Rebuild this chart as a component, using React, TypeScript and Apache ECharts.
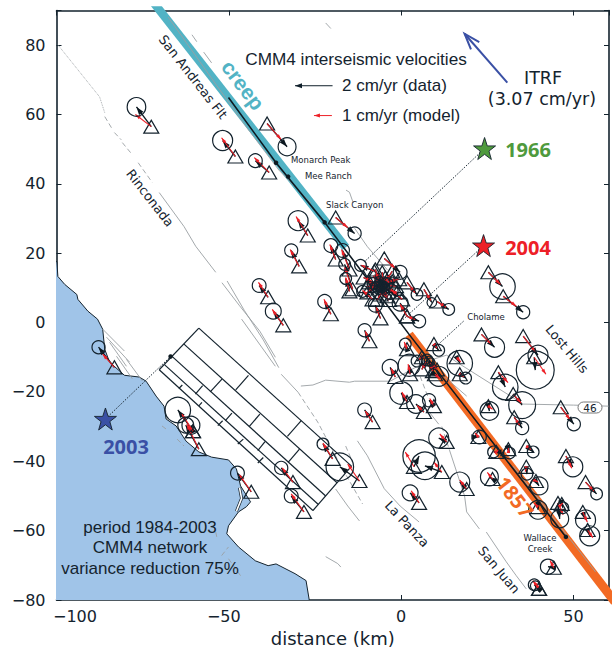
import React, { useEffect, useRef } from "react";
import * as echarts from "echarts";

const X_TICK_LABELS = { "-100": "{a|−100}", "-50": "{b|−50}", "0": "0", "50": "50" };
const X_LABEL = "distance (km)";

// station rows: triangle x, y, data head x, y, uncertainty radius (km), model head x, y
const STATIONS = [
  [-72.5,56.5,-76.8,62.2,2.7,-77.1,60.0],[-48.1,47.9,-51.8,52.5,2.9,-52.1,53.3],[-38.3,43.3,-42.3,46.7,2.0,-42.6,47.6],
  [-38.9,57.4,-33.1,50.7,2.6,-34.8,52.8],[-27.1,25.1,-29.9,29.4,2.9,-30.5,30.6],[-29.6,16.2,-31.9,20.8,1.9,-32.2,21.1],
  [-38.6,7.3,-41.2,10.7,2.0,-41.4,11.6],[-34.2,-0.8,-37.1,3.3,2.3,-37.4,3.8],[-20.4,2.4,-22.2,6.1,2.0,-22.4,6.7],
  [-83.2,-12.9,-87.8,-7.1,1.9,-86.6,-9.1],[-60.4,-31.3,-64.8,-25.2,3.7,-63.6,-26.4],[-58.7,-36.5,-62.5,-29.6,2.3,-62.2,-29.3],
  [-60.4,-31.3,-61.0,-29.6,2.6,-61.6,-29.8],[-43.5,-48.8,-47.5,-43.4,2.0,-46.9,-43.9],[-31.4,-46.0,-34.8,-41.9,1.9,-34.5,-41.9],
  [-28.2,-54.6,-31.9,-50.0,2.0,-31.9,-49.4],[-19.9,-39.3,-22.7,-35.0,1.7,-22.7,-34.7],[-12.1,-45.7,-17.8,-41.6,4.0,-15.5,-40.8],
  [-19.0,30.3,-13.5,25.7,1.9,-15.5,27.4],[-4.9,18.5,-0.3,14.5,2.0,-1.7,15.6],[-19.0,18.2,-20.4,22.2,2.0,-20.7,22.5],
  [-15.0,15.3,-17.0,20.8,2.0,-17.3,21.1],[-14.1,9.6,-16.4,16.8,1.7,-16.4,15.9],[-7.8,14.8,-11.8,16.5,1.7,-11.5,16.5],
  [-15.0,9.0,-16.1,12.7,1.7,-16.1,13.0],[-8.3,6.7,-11.2,9.0,1.7,-11.2,9.3],[-6.0,1.2,-7.5,5.0,2.0,-7.2,4.4],
  [1.7,1.8,-0.3,5.6,2.3,-0.3,5.3],[1.7,1.8,5.2,0.4,1.9,4.0,0.9],[1.7,11.6,4.6,8.1,1.7,4.0,8.6],[6.6,9.6,8.9,5.8,1.4,8.6,6.4],
  [-9.2,11.6,-6.9,10.2,1.7,-7.2,10.6],[-2.6,14.8,-4.6,11.6,1.4,-4.4,12.0],[-7.5,15.3,-6.3,11.9,1.4,-6.6,12.4],
  [-4.0,7.6,-5.5,10.2,1.4,-5.6,10.8],[-1.2,8.7,-4.6,9.6,1.4,-4.2,9.9],[-9.8,8.7,-7.5,10.4,1.4,-7.8,10.6],
  [0.3,6.7,-3.2,9.0,2.3,-2.9,9.5],[-6.0,8.1,-6.6,11.3,1.2,-6.3,11.0],[-10.9,13.0,-8.1,11.3,1.7,-8.6,12.0],
  [-2.6,11.9,-5.2,10.7,1.2,-4.9,11.3],[-4.6,13.0,-5.8,10.7,1.4,-5.5,10.9],[-0.6,12.5,-4.0,11.3,1.7,-3.6,11.9],
  [-8.0,13.5,-6.0,10.0,1.3,-6.4,10.6],[-3.5,6.5,-6.5,9.6,1.5,-6.2,9.2],[-10.0,10.5,-5.0,10.0,1.2,-5.6,10.3],
  [-1.5,10.5,-6.6,10.6,1.3,-6.0,10.9],[-5.5,14.5,-5.0,11.0,1.0,-5.2,11.5],[-7.0,6.5,-4.5,10.4,1.2,-4.9,9.9],
  [-9.2,-5.4,-10.6,-2.2,1.9,-10.4,-2.5],[1.7,-7.7,1.2,-6.2,1.7,0.9,-5.6],[9.5,-6.2,10.9,-8.0,1.7,10.4,-7.4],
  [10.4,6.1,13.8,3.8,1.7,13.0,4.4],[25.3,14.5,29.4,10.4,3.7,28.8,11.0],[29.6,7.6,35.4,3.0,1.9,33.4,4.7],
  [23.3,-3.4,27.1,-7.1,2.9,25.9,-6.0],[35.4,-3.9,39.7,-9.4,2.9,38.9,-8.4],[38.6,-10.0,38.9,-13.7,5.5,42.0,-14.9],
  [-1.7,-15.7,-3.2,-12.9,2.3,-2.9,-13.2],[2.6,-14.9,2.3,-12.3,3.2,2.0,-12.0],[6.0,-10.0,4.6,-11.1,1.7,5.0,-10.7],
  [9.2,-14.0,8.1,-11.1,1.4,8.4,-11.6],[10.4,-13.5,8.6,-11.4,1.2,8.9,-11.9],[6.0,-13.5,7.5,-10.8,1.7,7.2,-11.4],
  [9.8,-14.9,10.9,-15.5,2.9,11.4,-16.2],[16.1,-10.0,17.0,-11.7,3.7,17.3,-11.4],[17.0,-14.9,18.7,-16.0,1.7,18.2,-15.6],
  [1.7,-22.9,0.0,-20.3,3.3,0.2,-20.0],[6.6,-25.8,4.3,-23.5,2.7,4.6,-23.9],[9.5,-24.1,8.1,-22.4,1.9,8.3,-21.9],
  [28.2,-14.3,30.2,-18.6,3.7,31.0,-17.3],[32.5,-20.6,35.1,-23.8,3.9,34.8,-23.2],[25.3,-24.1,25.6,-25.5,2.7,26.5,-25.0],
  [32.8,-27.3,35.1,-30.4,1.9,34.4,-29.6],[46.3,-24.4,50.1,-29.3,1.9,49.0,-28.0],[-8.3,-28.7,-10.6,-25.2,2.0,-10.4,-25.5],
  [13.2,-34.4,10.9,-33.3,2.9,11.2,-32.1],[3.7,-41.6,5.2,-38.5,4.7,1.2,-37.3],[11.8,-43.1,6.9,-41.3,4.0,9.5,-40.2],
  [19.0,-48.0,17.0,-46.0,2.9,17.0,-45.4],[5.2,-52.0,2.6,-49.1,2.3,2.9,-48.5],[22.4,-33.0,22.7,-33.0,2.0,21.4,-31.8],
  [27.6,-37.3,26.8,-37.3,1.7,28.4,-36.6],[31.1,-36.5,31.4,-37.6,1.7,31.1,-36.0],[36.3,-35.6,38.3,-37.3,1.7,37.6,-36.6],
  [47.8,-38.5,49.8,-41.6,2.9,49.5,-42.0],[26.5,-45.1,25.6,-44.5,2.6,25.0,-43.2],[36.3,-41.6,36.5,-43.7,1.7,36.0,-43.0],
  [39.1,-45.7,40.0,-47.1,2.6,39.7,-46.0],[53.5,-46.0,56.7,-49.4,1.7,55.9,-48.6],[39.7,-53.2,39.7,-54.0,2.7,38.6,-52.0],
  [45.5,-52.0,46.0,-56.6,2.6,47.0,-55.4],[46.6,-52.3,46.9,-53.4,1.7,46.9,-52.0],[52.7,-54.6,53.5,-56.9,2.9,54.0,-57.5],
  [54.1,-59.8,54.7,-61.5,2.9,55.6,-62.0],[44.3,-70.7,42.6,-70.4,2.2,43.2,-68.6],[40.0,-76.8,38.6,-75.6,1.7,38.2,-74.4],
  [40.0,-76.8,38.9,-75.9,1.4,38.9,-75.0],
];

const COAST = [
  [-101,17.6],[-99.9,17.6],[-99.6,13.3],[-97.6,11],[-94.1,8.1],[-93.8,6.7],[-90.9,3.3],[-88.1,1],[-86.6,-1.9],[-86,-7.7],[-84.6,-11.4],
  [-80.3,-15.2],[-76,-15.7],[-74,-16.9],[-71.1,-21.2],[-68.8,-24.1],[-68.2,-27.8],[-65.3,-29.8],[-62.4,-34.2],[-58.7,-37.3],[-55,-38.8],
  [-50.1,-39.6],[-47.8,-42.2],[-46.6,-47.1],[-43.7,-51.7],[-44.9,-53.1],[-47.2,-54.6],[-50.1,-58.6],[-50.6,-60.9],[-47.2,-64.7],[-42.3,-68.7],
  [-38.6,-70.1],[-36.3,-69.6],[-30.8,-72.4],[-27.6,-74.4],[-26.5,-81],[-101,-81],
];
const SPIT = [[-46.9,-47.6],[-46.3,-50.7],[-47.8,-54.4]];

const CREEP_BAND = [[-73.1,93.9],[-16.1,21.7]];
const RUPTURE_1857 = [[2.3,-3.4],[63.6,-82.6]];
const SAF_TRACE = [[-50.1,64.9],[-36.3,46.1],[-22.2,28.9],[-5.8,7.3],[2.3,-3.4],[47.8,-61.8]];
const SAF_DOTS = [[-36.3,46.1],[-32.8,42.1],[-22.2,28.9],[47.8,-61.8],[-66.9,-9.8]];

const SOLID_FAULTS = [
  [[-67.6,88.1],[-53.6,68.5],[-44.6,56],[-35.5,44],[-26.2,34.5]],
  [[-13.5,27.2],[-9.8,21.9],[-4,15.2]],
  [[-16,38.2],[-15,37.6],[-13.9,34.5]],
  [[-70.2,37.5],[-63,27.7],[-59.6,22],[-53.8,14.5]],
  [[-52,11.5],[-47,5],[-41,-2.5],[-36.5,-10]],
  [[-50.5,12],[-45.5,3.5],[-40,-5],[-35.5,-13]],
  [[-46.3,1],[-36.5,-12.6]],
  [[-34.8,-14.9],[-29.9,-20.1]],
  [[-29.1,-18.3],[-25.6,-18],[-21.9,-16.6],[-15,-17.2],[-13.5,-16.9],[-3.2,-16.9],[7.5,-11.1],[13.2,-9.4],[16.1,-11.4],[35.4,-23.5],[50,-23.8],[60.2,-24.1]],
  [[-12.7,-34.1],[-9.8,-38.4],[-4.9,-47.9],[-0.3,-52.9],[5.2,-57.5]],
  [[-19,-48],[-15.5,-52.9],[-12.1,-57.2]],
  [[-21.9,-67.5],[-18.4,-69.5],[-17.5,-70.5]],
  [[14.1,-37],[18.4,-50],[19,-54.6],[22.7,-59.5]],
  [[24.7,-60.4],[30.5,-69],[33.4,-73],[36.3,-76.8]],
  [[7.5,-25],[10.9,-29.3]],
  [[12.4,-15.5],[19,-21.2]],
  [[32.5,-41.4],[56.4,-71.9]],
  [[-86.6,-1.9],[-80.3,-8.2]],[[-85.5,-4.2],[-78.8,-11.4]],[[-84.6,-5.7],[-79.7,-12.6]],[[-82.6,-9.7],[-78,-16.2]],[[-79.7,-10.6],[-75.1,-16.8]],
  [[-60.7,83],[-59.3,81]],[[-57.3,78],[-55,74.9]],[[-21.9,86.4],[-20.4,84.8]],
];
const DASHED_FAULTS = [
  [[-86,59.4],[-83.7,55.6]],[[-83.2,54.8],[-81.2,52.7]],[[-80.9,51.9],[-78,48.4]],[[-76.3,46.1],[-72.2,40.4]],
  [[-29.9,-20.1],[-24.2,-28.7],[-19.3,-37.9],[-17,-42.2],[-11.2,-52.3]],
  [[-16.1,-35.6],[-14.1,-40.2]],[[5.5,-15.5],[8,-22]],[[-69.4,-29.8],[-68.2,-30.7]],[[-65,-33.6],[-63,-35.6]],
  [[-53.8,-60.4],[-53.5,-61.8]],[[-52.1,-67.2],[-50.1,-64.7]],[[-50.1,-68.1],[-46.6,-73]],
  [[11.8,-30],[14.1,-37]],
];
const DOTTED_FAULT = [[-99.6,80.1],[-87.5,65.1],[-86,60.5]];

const BLOCK_EDGES = [
  [[-58.7,-1.6],[-70.2,-13.6]],[[-14.4,-41.4],[-25.6,-54.2]],
  [[-58.7,-1.6],[-14.4,-41.4]],[[-63,-6.2],[-18.6,-46.2]],[[-66.4,-9.8],[-21.9,-50]],[[-68.6,-12.2],[-24.1,-52.4]],[[-70.2,-13.6],[-25.6,-54.2]],
  [[-44.3,-15.2],[-48,-19.4]],[[-29,-28.3],[-33,-32.8]],[[-52,-16.3],[-55.4,-20]],[[-41,-26.4],[-44.1,-30]],[[-29.5,-36.5],[-32.8,-40.3]],
  [[-63.5,-18],[-64.5,-19]],[[-57.6,-18.2],[-59.7,-20.6]],[[-49.1,-26.1],[-51,-28.3]],[[-39.5,-34.3],[-41.6,-36.9]],
  [[-57.8,-23],[-58.7,-24]],[[-51.8,-28.3],[-53.2,-29.7]],[[-45.8,-33.6],[-47.4,-35]],[[-40,-38.9],[-41.6,-40.5]],
];

const CONNECTORS = [
  [[24.2,50.2],[-10.6,17.6]],[[23.9,22.2],[-0.3,0.1]],[[-85.8,-27.8],[-66.9,-9.8]],[[18.1,0.4],[10.9,-6.2]],
];
const STARS = [
  { year: "1966", pos: [24.2,50.2], color: "#4f9a3d" },
  { year: "2004", pos: [23.9,22.2], color: "#ed2027" },
  { year: "2003", pos: [-85.8,-27.8], color: "#3a50a5" },
];
const LEGEND_DATA_ARROW = [-19.9,68.3,-30.8,68.3];
const LEGEND_MODEL_ARROW = [-20.1,59.7,-25.3,59.7];
const ITRF_ARROW = [30.8,69.2,18.4,83.3];

const INK = "#14232e";
const FAULT = "#9a9fa3";
const SANS = "'Liberation Sans', Arial, sans-serif";
const DEJA = "'DejaVu Sans', sans-serif";
const deg = (d: number) => (-d * Math.PI) / 180;

function txt(text: string, x: number, y: number, size: number, opts: any = {}) {
  return {
    type: "text", x, y, rotation: deg(opts.rot || 0), z: 50, silent: true,
    style: {
      text, fontSize: size, fontFamily: opts.font || SANS, fontWeight: opts.weight || "normal",
      fill: opts.color || INK, align: opts.align || "center", verticalAlign: "middle",
    },
  };
}

function lineSeries(points: number[][], color: string, width: number, z: number, type: any = "solid", cap = "butt") {
  return {
    type: "line", data: points, showSymbol: false, symbol: "none", silent: true, z, clip: true,
    lineStyle: { color, width, type, cap }, xAxisIndex: 0, yAxisIndex: 0,
  };
}

function arrowSeries(rows: number[][], color: string, width: number, headLen: number, headWid: number, z: number, open = false) {
  return {
    type: "custom", coordinateSystem: "cartesian2d", data: rows, silent: true, z, clip: true,
    renderItem: (_: any, api: any) => {
      const a = api.coord([api.value(0), api.value(1)]);
      const b = api.coord([api.value(2), api.value(3)]);
      const dx = b[0] - a[0], dy = b[1] - a[1];
      const L = Math.hypot(dx, dy) || 1;
      const ux = dx / L, uy = dy / L;
      const bx = b[0] - ux * headLen, by = b[1] - uy * headLen;
      const p1 = [bx - uy * headWid / 2, by + ux * headWid / 2];
      const p2 = [bx + uy * headWid / 2, by - ux * headWid / 2];
      const children: any[] = [
        { type: "line", shape: { x1: a[0], y1: a[1], x2: b[0], y2: b[1] }, style: { stroke: color, lineWidth: width } },
      ];
      if (open) {
        children.push({ type: "polyline", shape: { points: [p1, b, p2] }, style: { stroke: color, lineWidth: width, fill: "none" } });
      } else {
        children.push({ type: "polygon", shape: { points: [p1, b, p2] }, style: { fill: color } });
      }
      return { type: "group", children };
    },
  };
}

const starPath = "path://M0,-10L2.35,-3.09L9.51,-3.09L3.8,1.18L5.88,8.09L0,3.82L-5.88,8.09L-3.8,1.18L-9.51,-3.09L-2.35,-3.09Z";

export default function App() {
  const ref = useRef<HTMLDivElement>(null);
  useEffect(() => {
    const chart = echarts.init(ref.current!, undefined, { renderer: "svg" });
    const hiddenAxis = { show: true, axisLabel: { show: false },
      axisTick: { inside: true, length: 5, lineStyle: { color: INK, width: 1 } }, splitLine: { show: false } };
    const series: any[] = [
      {
        type: "custom", coordinateSystem: "cartesian2d", data: [[-100, 0]], silent: true, z: 1, clip: true,
        renderItem: (_: any, api: any) => ({
          type: "polygon",
          shape: { points: COAST.map((p) => api.coord(p)) },
          style: { fill: "#a0c4e8", stroke: INK, lineWidth: 1 },
        }),
      },
      lineSeries(SPIT, INK, 3, 2),
      lineSeries(SPIT, "#ffffff", 1.6, 2),
      lineSeries(CREEP_BAND, "#52b3c5", 8.5, 3),
      lineSeries(RUPTURE_1857, "#f26a24", 9, 3),
      ...SOLID_FAULTS.map((f) => lineSeries(f, FAULT, 0.9, 4)),
      ...DASHED_FAULTS.map((f) => lineSeries(f, FAULT, 0.9, 4, [5, 3])),
      lineSeries(DOTTED_FAULT, FAULT, 0.9, 4, "dotted"),
      ...BLOCK_EDGES.map((f) => lineSeries(f, INK, 1.2, 5)),
      ...CONNECTORS.map((f) => lineSeries(f, "#1c2b36", 1, 6, [1.5, 1.5])),
      lineSeries(SAF_TRACE, "#0e1a22", 1.6, 6),
      { type: "scatter", data: SAF_DOTS, symbolSize: 4.5, silent: true, z: 7, itemStyle: { color: "#0e1a22", opacity: 1 } },
      {
        type: "scatter", data: STATIONS.map((s) => [s[0], s[1]]), symbol: "triangle", symbolSize: [15, 13], silent: true, z: 8,
        itemStyle: { color: "rgba(255,255,255,0)", borderColor: INK, borderWidth: 1.2, opacity: 1 },
      },
      arrowSeries(STATIONS.map((s) => [s[0], s[1], s[2], s[3]]), "#0c1820", 1.3, 8, 5.5, 9),
      arrowSeries(STATIONS.map((s) => [s[0], s[1], s[5], s[6]]), "#ed2027", 1.1, 5.5, 3.5, 10),
      {
        type: "custom", coordinateSystem: "cartesian2d", data: STATIONS.map((s) => [s[2], s[3], s[4]]), silent: true, z: 11, clip: true,
        renderItem: (_: any, api: any) => {
          const c = api.coord([api.value(0), api.value(1)]);
          const r = api.size([api.value(2), 0])[0];
          return { type: "circle", shape: { cx: c[0], cy: c[1], r }, style: { fill: "none", stroke: INK, lineWidth: 1.2 } };
        },
      },
      arrowSeries([LEGEND_DATA_ARROW], "#10202b", 1, 7, 5, 12),
      arrowSeries([LEGEND_MODEL_ARROW], "#ed2027", 1, 6, 4, 12),
      arrowSeries([ITRF_ARROW], "#3a50a5", 2, 16, 11, 12, true),
      ...STARS.map((st) => ({
        type: "scatter", data: [st.pos], symbol: starPath, symbolSize: 22, silent: true, z: 13,
        itemStyle: { color: st.color, borderColor: INK, borderWidth: 0.9, opacity: 1 },
      })),
    ];
    chart.setOption({
      animation: false,
      backgroundColor: "#ffffff",
      grid: { left: 56.5, top: 10.5, width: 557, height: 591, containLabel: false },
      xAxis: [
        {
          type: "value", min: -100, max: 60.3, interval: 50, position: "bottom",
          name: X_LABEL, nameLocation: "middle", nameGap: 29,
          nameTextStyle: { color: INK, fontSize: 18, fontFamily: DEJA },
          axisLine: { onZero: false, lineStyle: { color: INK, width: 1.6 } },
          axisTick: { inside: true, length: 5, lineStyle: { color: INK, width: 1 } },
          splitLine: { show: false }, showMaxLabel: false,
          axisLabel: {
            color: INK, fontSize: 16, fontFamily: DEJA, margin: 8,
            formatter: (v: number) => (X_TICK_LABELS as any)[String(v)] || "",
            rich: {
              a: { fontSize: 16, color: INK, fontFamily: DEJA, padding: [0, 0, 0, 37] },
              b: { fontSize: 16, color: INK, fontFamily: DEJA, padding: [0, 10, 0, 0] },
            },
          },
        },
        { type: "value", min: -100, max: 60.3, interval: 50, position: "top", ...hiddenAxis, axisLine: { onZero: false, lineStyle: { color: INK, width: 1.6 } } },
      ],
      yAxis: [
        {
          type: "value", min: -80, max: 90, interval: 20, position: "left",
          axisLine: { onZero: false, lineStyle: { color: INK, width: 1.6 } },
          axisTick: { inside: true, length: 5, lineStyle: { color: INK, width: 1 } },
          splitLine: { show: false }, showMaxLabel: false,
          axisLabel: {
            color: INK, fontSize: 16, fontFamily: DEJA, margin: 11,
            formatter: (v: number) => (v === 90 ? "" : String(v).replace("-", "−")),
          },
        },
        { type: "value", min: -80, max: 90, interval: 20, position: "right", ...hiddenAxis, axisLine: { onZero: false, lineStyle: { color: INK, width: 1.6 } } },
      ],
      series,
      graphic: [
        txt("CMM4 interseismic velocities", 356, 59, 17.2),
        txt("2 cm/yr (data)", 342, 85, 17, { align: "left" }),
        txt("1 cm/yr (model)", 342, 115, 17, { align: "left" }),
        txt("ITRF", 543, 78, 17.5, { font: DEJA }),
        txt("(3.07 cm/yr)", 542, 99, 17.5, { font: DEJA }),
        txt("creep", 243, 85, 21, { rot: 53, weight: "bold", color: "#52b3c5" }),
        txt("San Andreas Flt", 193, 77, 13, { rot: 52, font: DEJA }),
        txt("Rinconada", 150, 198, 13, { rot: 52, font: DEJA }),
        txt("Monarch Peak", 291, 160, 8.5, { align: "left", font: DEJA }),
        txt("Mee Ranch", 305, 176, 8.5, { align: "left", font: DEJA }),
        txt("Slack Canyon", 326, 205, 8.5, { align: "left", font: DEJA }),
        txt("Cholame", 486, 317, 8.5, { font: DEJA }),
        txt("Wallace", 540, 538, 8.5, { font: DEJA }),
        txt("Creek", 540, 549, 8.5, { font: DEJA }),
        txt("Lost Hills", 567, 349, 13, { rot: 50, font: DEJA }),
        txt("La Panza", 407, 524, 13, { rot: 47, font: DEJA }),
        txt("San Juan", 499, 570, 13, { rot: 50, font: DEJA }),
        txt("1857", 515, 497, 20, { rot: 52, weight: "bold", color: "#f26a24", font: "'Noto Sans', sans-serif" }),
        txt("1966", 528, 149, 20, { weight: "bold", color: "#4f9a3d", font: "'Noto Sans', sans-serif" }),
        txt("2004", 528, 247, 20, { weight: "bold", color: "#ed2027", font: "'Noto Sans', sans-serif" }),
        txt("2003", 126, 446, 20, { weight: "bold", color: "#3a50a5", font: "'Noto Sans', sans-serif" }),
        txt("period 1984-2003", 150, 527, 17),
        txt("CMM4 network", 150, 547, 17),
        txt("variance reduction 75%", 150, 568, 17),
        { type: "rect", z: 49, silent: true, shape: { x: 578, y: 402, width: 24, height: 11, r: 5.5 }, style: { fill: "#fff", stroke: "#555", lineWidth: 0.8 } },
        txt("46", 590, 407.5, 10.5, { font: DEJA }),
      ],
    });
    return () => chart.dispose();
  }, []);
  return <div ref={ref} style={{ position: "fixed", left: 0, top: 0, width: 612, height: 652 }} />;
}
